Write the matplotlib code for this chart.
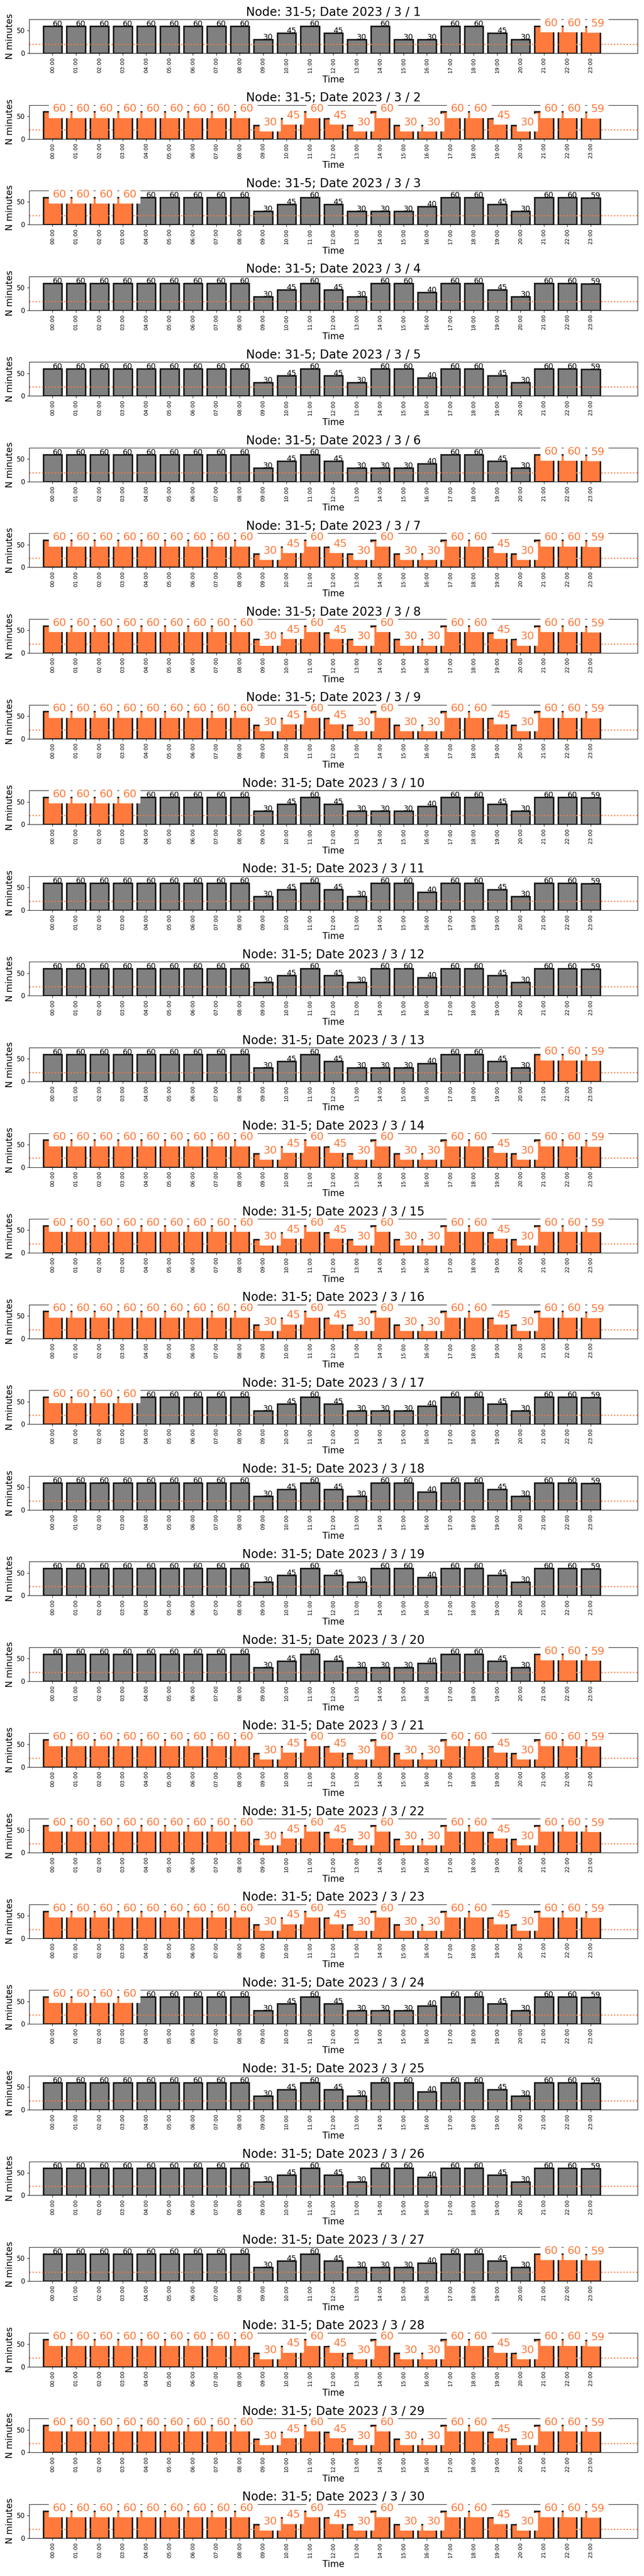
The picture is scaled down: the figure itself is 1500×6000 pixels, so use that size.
import matplotlib
matplotlib.use("Agg")
import matplotlib.pyplot as plt

# --- data --- #
node = "31-5"
year, month = 2023, 3
days = list(range(1, 31))

hours = ["00:00", "01:00", "02:00", "03:00", "04:00", "05:00", "06:00", "07:00",
         "08:00", "09:00", "10:00", "11:00", "12:00", "13:00", "14:00", "15:00",
         "16:00", "17:00", "18:00", "19:00", "20:00", "21:00", "22:00", "23:00"]

# minutes per hour, three day types seen in the chart
minutes_midweek = [60, 60, 60, 60, 60, 60, 60, 60, 60, 30, 45, 60,
                   45, 30, 60, 30, 30, 60, 60, 45, 30, 60, 60, 59]
minutes_monfri = [60, 60, 60, 60, 60, 60, 60, 60, 60, 30, 45, 60,
                  45, 30, 30, 30, 40, 60, 60, 45, 30, 60, 60, 59]
minutes_weekend = [60, 60, 60, 60, 60, 60, 60, 60, 60, 30, 45, 60,
                   45, 30, 60, 60, 40, 60, 60, 45, 30, 60, 60, 59]

# which profile each day of the month uses
day_type = ["mid", "mid", "mf", "we", "we", "mf", "mid", "mid", "mid", "mf",
            "we", "we", "mf", "mid", "mid", "mid", "mf", "we", "we", "mf",
            "mid", "mid", "mid", "mf", "we", "we", "mf", "mid", "mid", "mid"]

# which hours are highlighted (orange) on each day
day_highlight = ["late", "all", "early", "none", "none", "late", "all", "all", "all", "early",
                 "none", "none", "late", "all", "all", "all", "early", "none", "none", "late",
                 "all", "all", "all", "early", "none", "none", "late", "all", "all", "all"]

threshold = 20

profiles = {"mid": minutes_midweek, "mf": minutes_monfri, "we": minutes_weekend}
highlight_hours = {"late": [21, 22, 23], "early": [0, 1, 2, 3],
                   "all": list(range(24)), "none": []}

ORANGE = "#FF7A3C"
GREY = "#808080"

fig, axes = plt.subplots(len(days), 1, figsize=(15, 60), dpi=100)
fig.subplots_adjust(left=0.0453, right=0.99, top=0.9925, bottom=0.0147, hspace=1.527)

for ax, day, dtype, hl in zip(axes, days, day_type, day_highlight):
    values = profiles[dtype]
    marked = highlight_hours[hl]
    x = list(range(len(hours)))
    colors = [ORANGE if i in marked else GREY for i in x]
    ax.bar(x, values, width=0.8, color=colors, edgecolor="#141414", linewidth=2.5)
    ax.axhline(threshold, color=ORANGE, linestyle=":", linewidth=2)

    for i, v in zip(x, values):
        if i in marked:
            ax.text(i, v, str(v), color=ORANGE, fontsize=18,
                    bbox=dict(facecolor="white", edgecolor="white", pad=6))
        else:
            ax.text(i, v, str(v), color="black", fontsize=13)

    ax.set_xlim(-1, 25)
    ax.set_ylim(0, 75)
    ax.set_yticks([0, 50])
    ax.tick_params(axis="y", labelsize=11)
    ax.set_xticks(x)
    ax.set_xticklabels(hours, rotation=90, fontsize=9)
    ax.set_xlabel("Time", fontsize=15)
    ax.set_ylabel("N minutes", fontsize=15)
    ax.set_title("Node: %s; Date %i / %i / %i" % (node, year, month, day), fontsize=20)

fig.savefig("out.png", dpi=100)
plt.close(fig)
